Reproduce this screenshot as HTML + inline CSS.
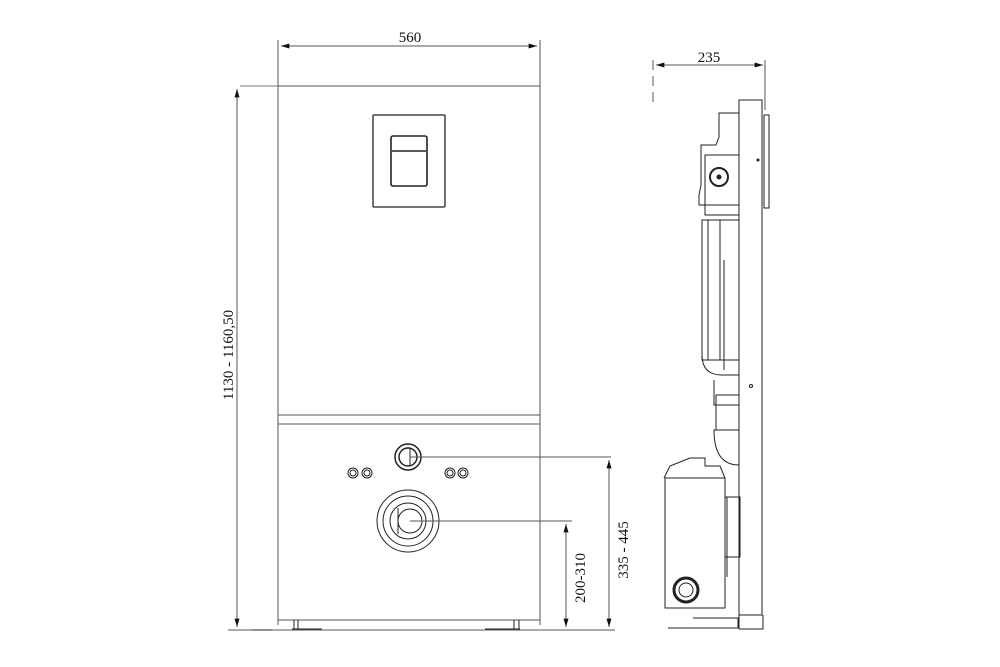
<!DOCTYPE html>
<html><head><style>body{margin:0;background:#fff}svg{display:block}</style></head><body>
<svg width="1000" height="667" viewBox="0 0 1000 667" xmlns="http://www.w3.org/2000/svg" font-family="Liberation Serif, serif" fill="none" stroke="#222">
<defs><marker id="a" viewBox="0 0 10 6" refX="10" refY="3" markerWidth="14" markerHeight="5" orient="auto-start-reverse" markerUnits="userSpaceOnUse"><path d="M0,0L10,3L0,6Z" fill="#111" stroke="none"/></marker></defs>
<!-- front view -->
<g stroke-width="1">
<line x1="278" y1="40" x2="278" y2="625" stroke="#555"/>
<line x1="540" y1="40" x2="540" y2="625" stroke="#555"/>
<line x1="278" y1="86" x2="540" y2="86" stroke="#555"/>
<line x1="240" y1="86" x2="278" y2="86" stroke="#777"/>
<line x1="278" y1="415" x2="540" y2="415" stroke="#555"/>
<line x1="278" y1="424" x2="540" y2="424" stroke="#555"/>
<line x1="278" y1="620" x2="540" y2="620" stroke="#555"/>
<line x1="281" y1="46" x2="537" y2="46" stroke="#555" marker-start="url(#a)" marker-end="url(#a)"/>
<rect x="373" y="115" width="72" height="92" rx="1" stroke-width="1.3"/>
<rect x="391" y="136" width="36" height="50" rx="2" stroke-width="1.6"/>
<line x1="392" y1="151" x2="426" y2="151" stroke-width="1.6"/>
<!-- left dim -->
<line x1="237" y1="89" x2="237" y2="627" stroke="#555" marker-start="url(#a)" marker-end="url(#a)"/>
<line x1="228" y1="630" x2="615" y2="630" stroke="#555"/>
<!-- lower panel -->
<circle cx="408" cy="457" r="13" stroke-width="1.5"/><circle cx="408" cy="457" r="9" stroke-width="1.5"/>
<line x1="410" y1="448" x2="410" y2="466"/>
<circle cx="353" cy="473" r="5"/><circle cx="353" cy="473" r="3"/>
<circle cx="367" cy="473" r="5"/><circle cx="367" cy="473" r="3"/>
<circle cx="450" cy="473" r="5"/><circle cx="450" cy="473" r="3"/>
<circle cx="463" cy="473" r="5"/><circle cx="463" cy="473" r="3"/>
<circle cx="408" cy="521" r="31"/><circle cx="408" cy="521" r="25"/><circle cx="408" cy="521" r="18"/><circle cx="410" cy="521" r="12"/>
<line x1="398" y1="508" x2="398" y2="534"/>
<line x1="410" y1="457" x2="611" y2="457" stroke="#555"/>
<line x1="609" y1="460" x2="609" y2="627" stroke="#555" marker-start="url(#a)" marker-end="url(#a)"/>
<line x1="410" y1="521" x2="572" y2="521" stroke="#555"/>
<line x1="566" y1="524" x2="566" y2="627" stroke="#555" marker-start="url(#a)" marker-end="url(#a)"/>
<!-- feet -->
<path d="M292 629h30M294 620v9M298 620v9M485 629h35M514 620v9M519 620v9M252 630h20"/>
</g>
<g fill="#111" stroke="none" font-size="15">
<text x="410" y="42" text-anchor="middle">560</text>
<text transform="translate(233,355) rotate(-90)" text-anchor="middle">1130 - 1160,50</text>
<text transform="translate(628,550) rotate(-90)" text-anchor="middle">335 - 445</text>
<text transform="translate(585,578) rotate(-90)" text-anchor="middle">200-310</text>
<text x="709" y="62" text-anchor="middle">235</text>
</g>
<!-- side view -->
<g stroke-width="1">
<line x1="656" y1="65" x2="763" y2="65" stroke="#555" marker-start="url(#a)" marker-end="url(#a)"/>
<line x1="653" y1="60" x2="653" y2="104" stroke="#555" stroke-dasharray="10,6"/>
<line x1="765" y1="60" x2="765" y2="110" stroke="#555"/>
<rect x="739" y="100" width="23" height="515"/>
<line x1="762" y1="110" x2="762" y2="615"/>
<rect x="764" y="115" width="5" height="93"/>
<path d="M739 113h-20v24l-3 8h-15v40l-2 10v10h40"/>
<rect x="705" y="155" width="34" height="60"/>
<circle cx="719" cy="177" r="9" stroke-width="2"/><circle cx="719" cy="177" r="2" fill="#222"/>
<path d="M702 220h37v140h-37zM708 220v140M720 220v140M724 260v110"/>
<path d="M702 355q0 20 20 20h17v30h-25v-25"/>
<rect x="716" y="395" width="23" height="35"/>
<path d="M714 430h25v35q-25 0 -25-35z"/>
<path d="M665 478h60v130h-60zM664 478l6-12 20-8 15 0v8h15l5 12"/>
<circle cx="686" cy="590" r="12" stroke-width="3"/><circle cx="686" cy="590" r="7"/>
<path d="M725 497h15v60h-15zM727 497v80"/>
<path d="M668 628h70M693 618h45v10M739 615v14h24v-14"/>
<circle cx="751" cy="386" r="1.5"/><circle cx="758" cy="160" r="1" fill="#222"/>
</g>
</svg>
</body></html>
